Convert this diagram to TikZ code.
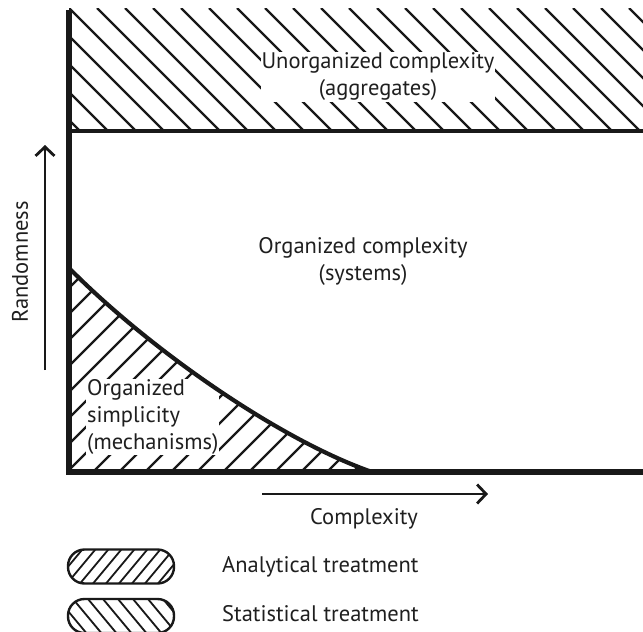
\documentclass[tikz,border=0pt]{standalone}
\usepackage{fontspec}
\setmainfont{PT Sans}
\usetikzlibrary{arrows.meta}

\begin{document}
\begin{tikzpicture}[x=1pt,y=-1pt,
	axisline/.style={draw=black!90, line width=5.5pt},
	edgeline/.style={draw=black!90, line width=4.2pt},
	hatchline/.style={draw=black!90, line width=2.2pt},
	lbl/.style={font=\fontsize{22.5}{27}\selectfont, text=black!88, fill=white, inner sep=1pt},
	legendbox/.style={draw=black!90, line width=2.4pt, rounded corners=16.5pt, minimum width=106pt, minimum height=34pt}]
	\useasboundingbox (0,0) rectangle (643,632);
	% axes corners
	\coordinate (ytop) at (69,10);
	\coordinate (orig) at (69,472);
	\coordinate (xend) at (643,472);
	\coordinate (bandl) at (69,131);
	\coordinate (bandr) at (643,131);
	\coordinate (curvetop) at (69,268);
	\coordinate (curvebot) at (372,472);
	% hatched regions
	\begin{scope}
		\clip (69,8) rectangle (bandr);
		\foreach \k in {-4,...,20}
			\draw[hatchline] (69+28*\k,8) -- ++(130,130);
	\end{scope}
	\begin{scope}
		\clip (curvetop) .. controls (150,350) and (280,440) .. (curvebot) -- (orig) -- cycle;
		\foreach \k in {-9,...,11}
			\draw[hatchline] (90+26*\k,475) -- ++(260,-260);
	\end{scope}
	% region labels
	\node[lbl, align=center] (unorg) at (378,77) {Unorganized complexity\\(aggregates)};
	\node[lbl, align=center] (org) at (363,261) {Organized complexity\\(systems)};
	\node[lbl, align=left, anchor=west] (simp) at (86,417) {Organized\\simplicity\\(mechanisms)};
	% borders
	\draw[edgeline] (curvetop) .. controls (150,350) and (280,440) .. (curvebot);
	\draw[edgeline] (bandl) -- (bandr);
	\draw[axisline] (ytop) -- (orig) -- (xend);
	% axis arrows
	\coordinate (rbot) at (45,370);
	\coordinate (rtop) at (45,145);
	\coordinate (cleft) at (262,494);
	\coordinate (cright) at (488,494);
	\draw[black!90, line width=2.8pt, -{Straight Barb[length=9pt,width=19pt]}] (rbot) -- (rtop);
	\draw[black!90, line width=2.8pt, -{Straight Barb[length=9pt,width=19pt]}] (cleft) -- (cright);
	\node[lbl, fill=none, rotate=90] (rand) at (20,262) {Randomness};
	\node[lbl, fill=none] (cplx) at (364,519) {Complexity};
	% legend
	\node[legendbox, path picture={
		\foreach \k in {0,...,11}
			\draw[hatchline, line width=1.8pt] ([xshift=\k*13pt-40pt]path picture bounding box.south west) -- ++(40,-48);
		}] (anbox) at (121,566.5) {};
	\node[legendbox, path picture={
		\foreach \k in {0,...,10}
			\draw[hatchline, line width=1.8pt] ([xshift=\k*15pt-40pt]path picture bounding box.north west) -- ++(40,48);
		}] (stbox) at (121,616) {};
	\node[lbl, fill=none, anchor=west] (antxt) at (221,567) {Analytical treatment};
	\node[lbl, fill=none, anchor=west] (sttxt) at (221,614) {Statistical treatment};
\end{tikzpicture}
\end{document}
